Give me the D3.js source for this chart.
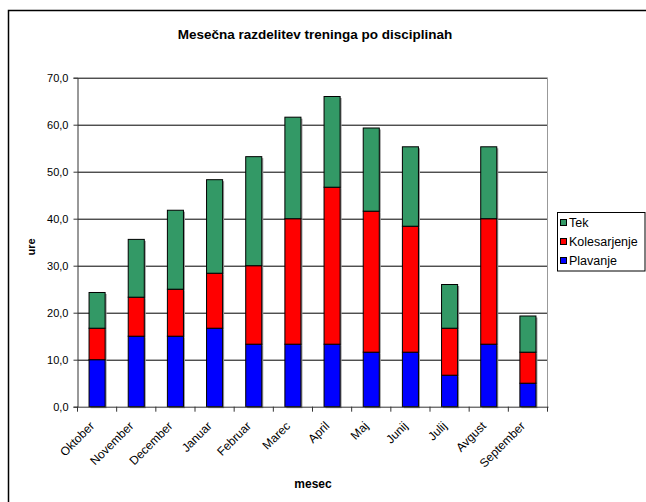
<!DOCTYPE html>
<html>
<head>
<meta charset="utf-8">
<script src="https://cdn.jsdelivr.net/npm/d3@7"></script>
<style>
body{margin:0;background:#fff;}
svg{display:block;font-family:"Liberation Sans",Arial,sans-serif;}
</style>
</head>
<body>
<svg id="c" width="646" height="502"></svg>
<script>
const months = ["Oktober","November","December","Januar","Februar","Marec","April","Maj","Junij","Julij","Avgust","September"];
const plavanje = [10.0,15.0,15.0,16.7,13.3,13.3,13.3,11.6,11.6,6.7,13.3,5.0];
const kolesarjenje = [6.7,8.3,10.0,11.7,16.7,26.7,33.4,30.0,26.8,10.0,26.7,6.6];
const tek = [7.6,12.3,16.8,19.9,23.2,21.6,19.3,17.7,16.9,9.3,15.3,7.7];
const seriesNames = ["Plavanje","Kolesarjenje","Tek"];
const colors = ["#0000FF","#FF0000","#339966"];
const yTicks = [0,10,20,30,40,50,60,70];

const svg = d3.select("#c");
svg.append("rect").attr("x",8.5).attr("y",10.5).attr("width",700).attr("height",600)
  .attr("fill","#fff").attr("stroke","#000").attr("stroke-width",1.5);

const L=77.5, R=547.5, T=77.7, B=406.7;
const x = d3.scaleBand().domain(months).range([L,R]).paddingInner(0.59).paddingOuter(0.295);
const y = d3.scaleLinear().domain([0,70]).range([B,T]);

svg.append("g").selectAll("line").data(yTicks.filter(d=>d>0)).join("line")
  .attr("x1",L).attr("x2",R).attr("y1",d=>y(d)+0.5).attr("y2",d=>y(d)+0.5)
  .attr("stroke","#000").attr("stroke-width",1);
svg.append("line").attr("x1",R).attr("x2",R).attr("y1",T).attr("y2",B).attr("stroke","#999");

const data = months.map((m,i)=>({month:m,Plavanje:plavanje[i],Kolesarjenje:kolesarjenje[i],Tek:tek[i]}));
const stack = d3.stack().keys(seriesNames)(data);

const g = svg.append("g");
stack.forEach((s,si)=>{
  g.selectAll(null).data(s).join("rect")
    .attr("x",d=>x(d.data.month)+1.5).attr("y",d=>y(d[1])+1.5)
    .attr("width",x.bandwidth()).attr("height",d=>y(d[0])-y(d[1]))
    .attr("fill","#999");
});
stack.forEach((s,si)=>{
  g.selectAll(null).data(s).join("rect")
    .attr("x",d=>x(d.data.month)).attr("y",d=>y(d[1]))
    .attr("width",x.bandwidth()).attr("height",d=>y(d[0])-y(d[1]))
    .attr("fill",colors[si]).attr("stroke","#000").attr("stroke-width",1);
});

const ya = svg.append("g").attr("transform",`translate(${L},0)`)
  .call(d3.axisLeft(y).tickValues(yTicks).tickSize(4).tickPadding(5)
    .tickFormat(d=>d3.format(".1f")(d).replace(".",",")));
ya.select(".domain").attr("stroke","#333");
ya.selectAll(".tick line").attr("stroke","#333");
ya.selectAll("text").attr("font-size",11).attr("fill","#000").attr("font-family","Liberation Sans, Arial, sans-serif");

const xa = svg.append("g").attr("transform",`translate(0,${B})`);
xa.append("line").attr("x1",L).attr("x2",R+1).attr("y1",0.5).attr("y2",0.5).attr("stroke","#333");
const step = x.step();
xa.selectAll("line.t").data(d3.range(months.length+1)).join("line").attr("class","t")
  .attr("x1",i=>L+i*step).attr("x2",i=>L+i*step).attr("y1",0).attr("y2",5).attr("stroke","#333");
xa.selectAll("text").data(months).join("text")
  .attr("transform",d=>`translate(${x(d)+x.bandwidth()/2-2},20) rotate(-45)`)
  .attr("text-anchor","end").attr("font-size",12).text(d=>d);

svg.append("text").attr("x",315).attr("y",39).attr("text-anchor","middle")
  .attr("font-size",13.5).attr("font-weight","bold").text("Mesečna razdelitev treninga po disciplinah");
svg.append("text").attr("x",313).attr("y",488).attr("text-anchor","middle")
  .attr("font-size",12).attr("font-weight","bold").text("mesec");
svg.append("text").attr("transform","translate(35,247) rotate(-90)").attr("text-anchor","middle")
  .attr("font-size",11).attr("font-weight","bold").text("ure");

const lg = svg.append("g");
lg.append("rect").attr("x",557.5).attr("y",212.5).attr("width",87.5).attr("height",58.5)
  .attr("fill","#fff").attr("stroke","#000");
const legItems = ["Tek","Kolesarjenje","Plavanje"];
const legColors = ["#339966","#FF0000","#0000FF"];
legItems.forEach((n,i)=>{
  lg.append("rect").attr("x",560.5).attr("y",219.5+i*19).attr("width",6).attr("height",6)
    .attr("fill",legColors[i]).attr("stroke","#000");
  lg.append("text").attr("x",569).attr("y",227+i*19).attr("font-size",12.5).text(n);
});
</script>
</body>
</html>
